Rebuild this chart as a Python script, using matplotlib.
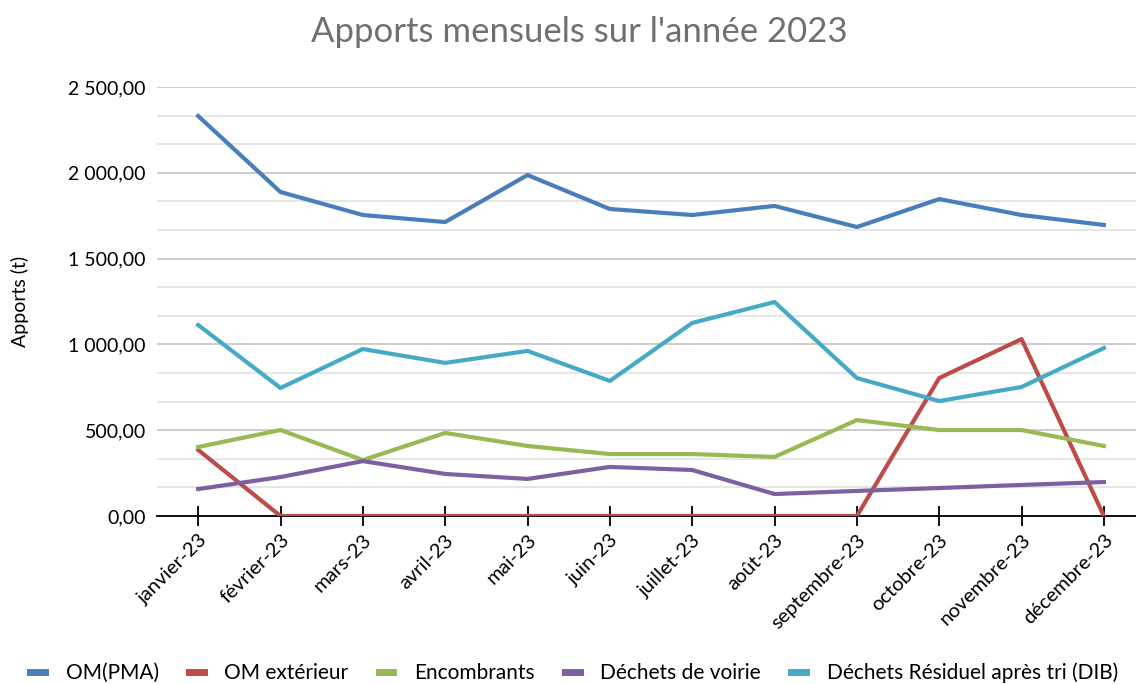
import matplotlib
matplotlib.use("Agg")
import matplotlib.pyplot as plt
from matplotlib.ticker import MultipleLocator, FuncFormatter

months = ["janvier-23", "février-23", "mars-23", "avril-23", "mai-23", "juin-23",
          "juillet-23", "août-23", "septembre-23", "octobre-23", "novembre-23", "décembre-23"]
om_pma = [2331, 1888, 1754, 1713, 1987, 1789, 1754, 1807, 1684, 1847, 1754, 1696]
om_ext = [385, 0, 0, 0, 0, 0, 0, 0, 0, 804, 1031, 0]
encombrants = [402, 501, 326, 484, 408, 361, 361, 344, 559, 501, 501, 408]
voirie = [157, 227, 320, 245, 216, 286, 268, 128, 146, 163, 181, 198]
dib = [1113, 746, 973, 892, 962, 787, 1125, 1247, 804, 670, 752, 979]

series = [
    ("OM(PMA)", om_pma, "#4a7ebb"),
    ("OM extérieur", om_ext, "#be4b48"),
    ("Encombrants", encombrants, "#98b954"),
    ("Déchets de voirie", voirie, "#7d60a0"),
    ("Déchets Résiduel après tri (DIB)", dib, "#46aac5"),
]

plt.rcParams['font.family'] = ['Lato', 'DejaVu Sans']

fig = plt.figure(figsize=(11.36, 6.84), dpi=100)
ax = fig.add_axes([157/1136, 1-516/684, 1-157/1136, (516-87)/684])

x = list(range(len(months)))
for name, vals, col in series:
    ax.plot(x, vals, color=col, lw=3, label=name, solid_joinstyle='round')

ax.set_ylim(0, 2500)
ax.set_xlim(-0.5, 11.39)
ax.yaxis.set_major_locator(MultipleLocator(500))
ax.yaxis.set_minor_locator(MultipleLocator(500/3))

def fmt(v, pos):
    s = f"{v:,.2f}".replace(",", " ").replace(".", ",")
    return s
ax.yaxis.set_major_formatter(FuncFormatter(fmt))
ax.grid(axis='y', which='major', color='#c8c8c8', lw=1.3)
ax.grid(axis='y', which='minor', color='#e4e4e4', lw=1.3)
ax.set_axisbelow(True)
for s in ['top', 'right', 'left']:
    ax.spines[s].set_visible(False)
ax.spines['bottom'].set_color('black')
ax.spines['bottom'].set_linewidth(1.3)
ax.spines['bottom'].set_zorder(1)
ax.tick_params(axis='y', which='both', length=0, labelsize=14, pad=8)
ax.set_xticks(x)
ax.set_xticklabels(months, rotation=45, ha='right', rotation_mode='anchor', fontsize=14.5)
ax.tick_params(axis='x', direction='inout', length=14, width=1.3, pad=4)
ax.set_ylabel("Apports (t)", fontsize=14)
ax.yaxis.set_label_coords(-0.131, 0.5)

fig.text(0.51, 0.953, "Apports mensuels sur l'année 2023", fontsize=25, color='#707070',
         ha='center', va='center')

leg = fig.legend(loc='center left', ncol=5, frameon=False, fontsize=15,
                 bbox_to_anchor=(22/1136, 1-673/684), handlelength=0.7, columnspacing=1.45,
                 handletextpad=1.0, borderaxespad=0)
for h in leg.get_lines():
    h.set_linewidth(5)

fig.savefig("out.png", dpi=100)
